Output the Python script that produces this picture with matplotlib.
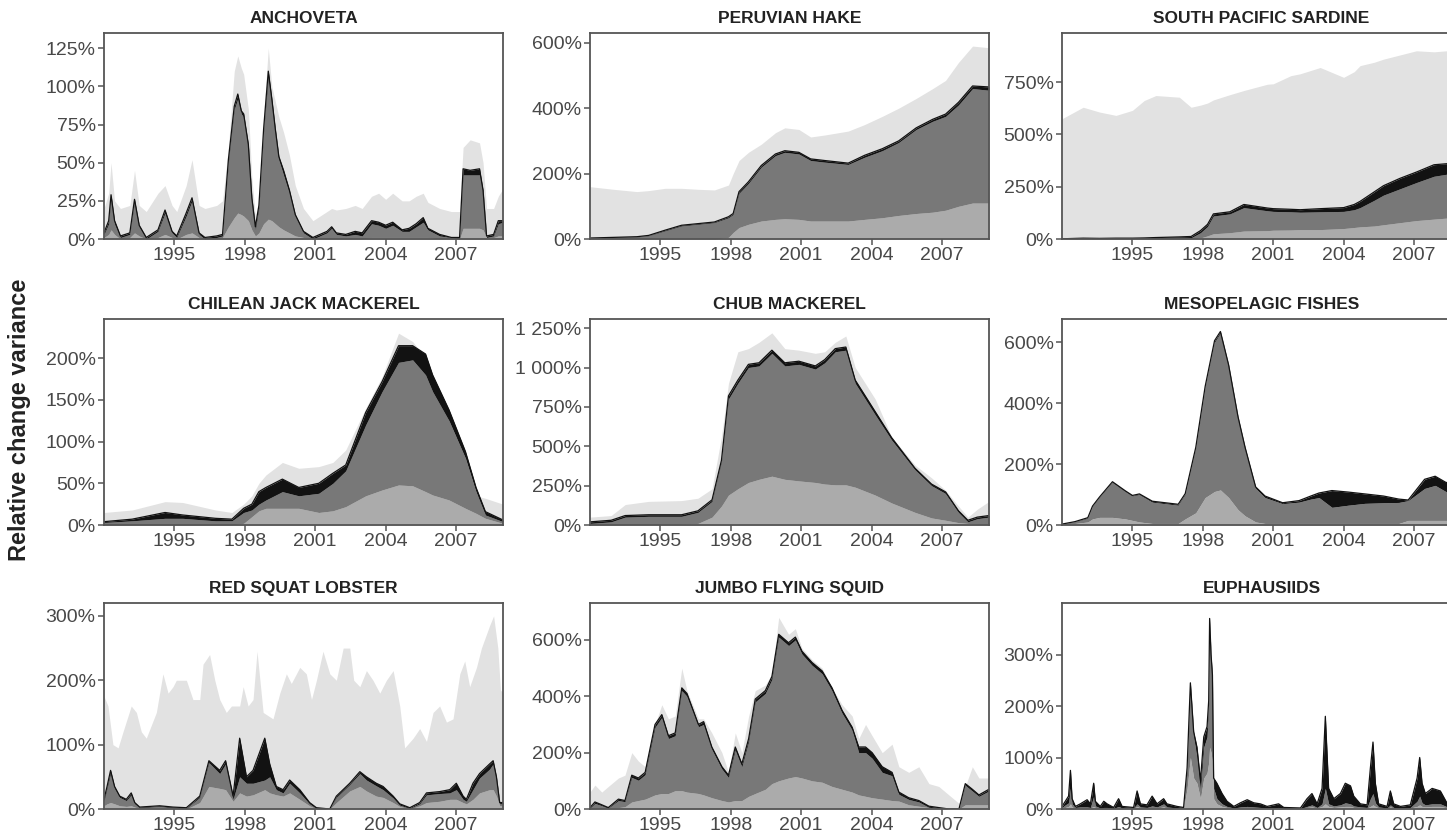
import numpy as np
from matplotlib import pyplot as plt

plt.rcParams['font.family'] = ['Liberation Sans', 'DejaVu Sans']

###################
# data (% values) #
###################
# each panel: years, lo (bottom grey), mid (dark grey top), top (black top), bg (light grey behind)

anch_years = [1992.0, 1992.2, 1992.3, 1992.45, 1992.7, 1993.1, 1993.3, 1993.5, 1993.8, 1994.3,
              1994.6, 1994.9, 1995.1, 1995.5, 1995.75, 1996.05, 1996.3, 1996.8, 1997.05, 1997.3,
              1997.55, 1997.7, 1997.85, 1997.95, 1998.15, 1998.3, 1998.45, 1998.6, 1998.8, 1999.0,
              1999.15, 1999.3, 1999.45, 1999.65, 1999.9, 2000.15, 2000.5, 2000.9, 2001.2, 2001.5,
              2001.7, 2001.9, 2002.3, 2002.7, 2003.0, 2003.4, 2003.7, 2004.0, 2004.3, 2004.7,
              2005.0, 2005.3, 2005.6, 2005.8, 2006.3, 2006.8, 2007.15, 2007.3, 2007.6, 2008.0,
              2008.15, 2008.3, 2008.6, 2008.8, 2009.0]
anch_bg = [20, 30, 50, 25, 20, 22, 45, 22, 18, 30, 35, 22, 18, 35, 52, 22, 20, 22, 25, 60,
           110, 120, 112, 108, 85, 40, 15, 25, 80, 125, 100, 90, 80, 70, 55, 35, 20, 12, 15, 18,
           20, 19, 20, 22, 20, 28, 30, 26, 30, 25, 25, 28, 30, 24, 20, 18, 18, 60, 65, 63,
           50, 20, 20, 28, 33]
anch_lo = [1, 3, 6, 3, 0, 1, 4, 2, 0, 1, 3, 1, 0, 3, 4, 1, 0, 0, 1, 8,
           14, 17, 16, 15, 12, 6, 2, 4, 10, 13, 12, 10, 8, 6, 4, 2, 1, 0, 0, 0,
           0, 0, 0, 0, 0, 1, 1, 1, 1, 1, 1, 1, 1, 1, 0, 0, 0, 7, 7, 7,
           6, 1, 1, 2, 2]
anch_mid = [3, 10, 27, 10, 1, 3, 24, 8, 0, 5, 17, 4, 1, 15, 25, 3, 0, 1, 2, 50,
            85, 92, 82, 80, 60, 25, 6, 20, 70, 106, 88, 70, 52, 42, 30, 15, 4, 0, 2, 4,
            7, 3, 2, 3, 2, 10, 9, 7, 9, 5, 5, 8, 11, 6, 2, 1, 0, 42, 42, 42,
            30, 1, 2, 10, 11]
anch_top = [4, 12, 29, 12, 2, 4, 26, 9, 1, 6, 19, 5, 2, 17, 27, 4, 1, 2, 3, 52,
            87, 95, 84, 82, 62, 27, 8, 22, 72, 110, 92, 72, 54, 45, 32, 16, 5, 1, 3, 5,
            8, 4, 3, 5, 4, 12, 11, 9, 11, 6, 7, 10, 14, 7, 3, 1, 1, 46, 45, 46,
            32, 2, 3, 12, 12]

hake_years = [1992.0, 1993.0, 1994.0, 1994.5, 1995.2, 1995.9, 1996.6, 1997.3, 1997.9, 1998.1,
              1998.35, 1998.75, 1999.3, 1999.9, 2000.3, 2000.9, 2001.4, 2002.0, 2003.0, 2003.7,
              2004.45, 2005.15, 2005.9, 2006.6, 2007.15, 2007.7, 2008.3, 2009.0]
hake_bg = [160, 152, 145, 148, 155, 155, 152, 150, 165, 200, 240, 265, 290, 325, 340,
           335, 312, 318, 330, 350, 375, 400, 430, 460, 485, 540, 590, 585]
hake_lo = [0, 0, 0, 0, 0, 0, 0, 0, 5, 20, 35, 45, 55, 60, 62,
           60, 55, 55, 55, 60, 65, 72, 78, 82, 88, 100, 110, 110]
hake_mid = [2, 4, 6, 10, 25, 40, 45, 50, 65, 75, 140, 170, 220, 255, 265,
            260, 240, 235, 228, 250, 270, 295, 335, 360, 375, 410, 460, 455]
hake_top = [3, 5, 7, 11, 27, 42, 47, 52, 68, 78, 145, 175, 225, 260, 270,
            265, 245, 240, 232, 256, 276, 300, 340, 366, 382, 418, 468, 465]

sard_years = [1992.0, 1992.9, 1993.6, 1994.3, 1995.0, 1995.5, 1996.0, 1997.0, 1997.5, 1997.9,
              1998.2, 1998.45, 1999.15, 1999.75, 2000.75, 2001.0, 2001.75, 2002.15, 2003.0, 2004.0,
              2004.45, 2004.7, 2005.3, 2005.7, 2006.4, 2007.1, 2007.85, 2008.4, 2009.0]
sard_bg = [575, 630, 607, 591, 615, 662, 686, 678, 630, 640, 650, 665, 690, 710, 740,
           742, 781, 790, 820, 773, 800, 829, 845, 860, 880, 900, 895, 900, 905]
sard_lo = [0, 0, 0, 0, 0, 0, 0, 0, 0, 5, 15, 25, 30, 38, 40,
           42, 43, 45, 45, 50, 55, 58, 62, 68, 78, 88, 95, 100, 100]
sard_mid = [0, 2, 1, 2, 2, 3, 4, 5, 6, 30, 60, 110, 120, 150, 135,
            132, 130, 128, 130, 132, 140, 150, 185, 210, 240, 270, 300, 310, 320]
sard_top = [1, 4, 3, 4, 4, 5, 7, 10, 12, 40, 70, 120, 130, 165, 148,
            145, 142, 140, 145, 150, 165, 180, 225, 255, 290, 320, 355, 360, 365]

jack_years = [1992.0, 1993.2, 1994.6, 1995.35, 1996.75, 1997.45, 1997.95, 1998.3, 1998.6, 1998.9,
              1999.6, 2000.3, 2001.15, 2001.75, 2002.3, 2003.15, 2003.85, 2004.55, 2005.15, 2005.7,
              2006.0, 2006.7, 2007.4, 2007.85, 2008.25, 2009.0]
jack_bg = [15, 18, 28, 27, 18, 15, 25, 35, 50, 60, 75, 68, 70, 75, 90,
           140, 178, 230, 220, 200, 175, 125, 65, 35, 32, 25]
jack_lo = [0, 0, 0, 0, 0, 0, 2, 10, 17, 20, 20, 20, 15, 17, 22,
           35, 42, 48, 47, 40, 36, 30, 20, 14, 8, 2]
jack_mid = [3, 5, 8, 8, 5, 5, 15, 18, 25, 30, 40, 35, 38, 50, 65,
            120, 160, 195, 198, 180, 160, 125, 80, 40, 12, 4]
jack_top = [4, 7, 15, 12, 8, 7, 20, 25, 40, 45, 55, 45, 50, 62, 72,
            135, 172, 215, 215, 205, 180, 138, 88, 45, 16, 6]

chub_years = [1992.0, 1992.9, 1993.5, 1994.5, 1995.9, 1996.6, 1997.2, 1997.6, 1997.9, 1998.3,
              1998.75, 1999.2, 1999.75, 2000.3, 2000.9, 2001.6, 2002.0, 2002.45, 2002.9, 2003.3,
              2004.15, 2004.85, 2005.85, 2006.55, 2007.15, 2007.7, 2008.1, 2008.5, 2009.0]
chub_bg = [50, 60, 130, 150, 155, 170, 230, 560, 900, 1100, 1120, 1160, 1220, 1120, 1110,
           1090, 1100, 1160, 1200, 1000, 800, 560, 380, 300, 220, 120, 50, 100, 150]
chub_lo = [0, 0, 2, 3, 5, 10, 50, 120, 190, 230, 270, 290, 310, 290, 280,
           270, 260, 255, 255, 240, 190, 140, 80, 45, 30, 15, 10, 5, 5]
chub_mid = [10, 20, 50, 55, 55, 80, 150, 400, 800, 900, 1000, 1010, 1090, 1010, 1020,
            990, 1030, 1100, 1110, 900, 700, 540, 350, 250, 200, 80, 20, 40, 50]
chub_top = [20, 30, 60, 65, 65, 90, 160, 410, 820, 920, 1020, 1030, 1110, 1030, 1040,
            1010, 1050, 1120, 1130, 920, 720, 555, 360, 260, 210, 90, 30, 50, 60]

meso_years = [1992.0, 1992.55, 1993.1, 1993.3, 1993.6, 1994.15, 1994.7, 1995.0, 1995.3, 1995.85,
              1996.95, 1997.25, 1997.7, 1998.1, 1998.5, 1998.75, 1999.1, 1999.5, 1999.8, 2000.25,
              2000.65, 2001.4, 2002.1, 2002.6, 2002.95, 2003.5, 2004.2, 2004.9, 2005.7, 2006.35,
              2006.75, 2007.45, 2007.9, 2008.35, 2009.0]
meso_lo = [1, 5, 10, 20, 25, 25, 20, 15, 10, 5, 5, 20, 40, 90, 110, 115, 90, 50,
           30, 10, 5, 5, 5, 5, 5, 5, 5, 5, 5, 5, 15, 15, 15, 15, 15]
meso_mid = [2, 10, 22, 60, 90, 140, 110, 95, 100, 75, 65, 100, 250, 450, 600, 630, 520, 350,
            250, 120, 90, 70, 75, 85, 90, 58, 65, 71, 73, 74, 80, 120, 130, 110, 100]
meso_top = [3, 11, 24, 62, 92, 142, 112, 97, 102, 78, 68, 103, 255, 455, 605, 635, 525, 355,
            255, 125, 95, 73, 80, 95, 105, 113, 108, 102, 95, 85, 82, 150, 160, 140, 130]

lob_years = [1992.0, 1992.13, 1992.28, 1992.45, 1992.67, 1992.95, 1993.16, 1993.31, 1993.52, 1994.37,
             1994.94, 1995.51, 1996.08, 1996.47, 1996.93, 1997.18, 1997.5, 1997.78, 1998.07, 1998.35,
             1998.85, 1999.06, 1999.34, 1999.63, 1999.91, 2000.34, 2000.76, 2001.05, 2001.62, 2001.9,
             2002.47, 2002.9, 2003.18, 2003.6, 2003.89, 2004.32, 2004.6, 2005.03, 2005.45, 2005.74,
             2006.3, 2006.73, 2007.01, 2007.3, 2007.44, 2007.72, 2008.0, 2008.43, 2008.58, 2008.72,
             2008.86, 2009.0]
lob_lo = [5, 8, 10, 8, 5, 4, 5, 3, 1, 2, 1, 0, 10, 35, 32, 30, 12, 25, 20, 22,
          30, 25, 22, 20, 25, 15, 5, 0, 0, 10, 28, 35, 28, 20, 18, 10, 4, 0, 5, 10,
          12, 15, 15, 10, 8, 15, 25, 30, 30, 20, 5, 5]
lob_mid = [12, 32, 55, 32, 18, 13, 22, 8, 2, 4, 2, 1, 18, 72, 55, 70, 15, 50, 40, 40,
           45, 50, 30, 25, 40, 25, 8, 1, 0, 18, 38, 55, 45, 36, 30, 17, 6, 1, 8, 22,
           24, 25, 30, 15, 12, 30, 48, 62, 70, 45, 8, 8]
lob_top = [15, 35, 60, 35, 20, 15, 25, 10, 3, 5, 3, 2, 20, 75, 60, 75, 20, 110, 50, 60,
           110, 70, 35, 30, 45, 30, 10, 2, 0, 20, 40, 58, 50, 40, 35, 20, 8, 2, 10, 25,
           27, 30, 40, 20, 15, 40, 55, 70, 75, 50, 10, 10]
lob_bg_years = [1992.0, 1992.17, 1992.38, 1992.6, 1992.81, 1993.16, 1993.38, 1993.59, 1993.8, 1994.23,
                1994.51, 1994.73, 1994.94, 1995.08, 1995.51, 1995.79, 1996.08, 1996.22, 1996.5, 1996.72,
                1996.93, 1997.21, 1997.43, 1997.78, 1997.93, 1998.14, 1998.35, 1998.52, 1998.78, 1999.2,
                1999.49, 1999.77, 1999.98, 2000.34, 2000.62, 2000.84, 2001.05, 2001.33, 2001.62, 2001.9,
                2002.19, 2002.47, 2002.64, 2002.9, 2003.18, 2003.46, 2003.75, 2004.03, 2004.32, 2004.6,
                2004.81, 2005.17, 2005.45, 2005.74, 2006.02, 2006.3, 2006.59, 2006.87, 2007.16, 2007.37,
                2007.58, 2007.87, 2008.08, 2008.43, 2008.6, 2008.78, 2008.89, 2009.0]
lob_bg = [175, 160, 100, 95, 120, 160, 150, 120, 110, 150, 210, 180, 190, 200, 200, 170, 170, 225, 240, 200,
          170, 150, 160, 160, 190, 160, 170, 245, 150, 140, 180, 210, 195, 220, 210, 170, 200, 245, 210, 200,
          250, 250, 200, 190, 215, 200, 180, 200, 215, 160, 95, 110, 125, 105, 150, 160, 135, 140, 210, 230,
          190, 220, 250, 285, 300, 250, 185, 180]

squid_years = [1992.0, 1992.21, 1992.5, 1992.78, 1993.21, 1993.49, 1993.78, 1994.06, 1994.35, 1994.77,
               1995.06, 1995.34, 1995.63, 1995.91, 1996.13, 1996.62, 1996.84, 1997.19, 1997.62, 1997.9,
               1998.19, 1998.47, 1998.76, 1999.04, 1999.47, 1999.75, 2000.04, 2000.46, 2000.75, 2001.03,
               2001.46, 2001.89, 2002.31, 2002.74, 2003.17, 2003.45, 2003.74, 2004.02, 2004.45, 2004.87,
               2005.16, 2005.58, 2006.01, 2006.44, 2006.86, 2007.29, 2007.72, 2007.99, 2008.29, 2008.57,
               2009.0]
squid_bg = [60, 85, 60, 80, 110, 120, 200, 170, 150, 300, 370, 320, 330, 500, 420, 320, 320, 270, 200, 130,
            270, 200, 330, 420, 440, 480, 680, 620, 640, 570, 530, 500, 430, 370, 330, 250, 300, 260, 200, 230,
            150, 130, 150, 90, 80, 50, 20, 80, 150, 110, 110]
squid_lo = [0, 0, 2, 3, 5, 8, 25, 30, 35, 50, 55, 55, 65, 65, 60, 55, 50, 40, 30, 25,
            30, 30, 45, 55, 70, 90, 100, 110, 115, 110, 100, 95, 80, 70, 60, 50, 45, 40, 35, 30,
            28, 15, 10, 5, 2, 0, 0, 15, 15, 15, 15]
squid_mid = [3, 20, 12, 3, 30, 26, 112, 102, 122, 290, 325, 250, 260, 420, 400, 292, 300, 212, 142, 112,
             210, 150, 240, 380, 410, 460, 610, 580, 600, 550, 510, 480, 420, 340, 280, 200, 200, 180, 130, 118,
             52, 34, 25, 6, 3, 0, 0, 84, 64, 45, 64]
squid_top = [5, 25, 15, 5, 35, 30, 120, 110, 130, 300, 335, 260, 270, 430, 410, 300, 310, 220, 150, 120,
             220, 160, 250, 390, 420, 470, 620, 590, 610, 560, 520, 490, 430, 350, 290, 220, 220, 200, 150, 130,
             60, 40, 30, 10, 5, 0, 0, 90, 70, 50, 70]

euph_years = [1992.0, 1992.14, 1992.28, 1992.36, 1992.43, 1992.57, 1992.78, 1993.07, 1993.21, 1993.35,
              1993.42, 1993.63, 1993.78, 1993.92, 1994.2, 1994.41, 1994.56, 1995.05, 1995.2, 1995.34,
              1995.62, 1995.84, 1996.05, 1996.33, 1996.47, 1996.9, 1997.18, 1997.33, 1997.47, 1997.61,
              1997.75, 1997.9, 1998.04, 1998.18, 1998.25, 1998.29, 1998.35, 1998.41, 1998.46, 1998.6,
              1998.82, 1999.03, 1999.32, 1999.6, 1999.89, 2000.17, 2000.45, 2000.74, 2001.23, 2001.45,
              2002.16, 2002.44, 2002.65, 2002.87, 2003.08, 2003.22, 2003.36, 2003.58, 2003.86, 2004.07,
              2004.29, 2004.43, 2004.71, 2005.0, 2005.14, 2005.25, 2005.35, 2005.49, 2005.85, 2005.99,
              2006.13, 2006.42, 2006.84, 2007.13, 2007.24, 2007.34, 2007.48, 2007.77, 2008.12, 2008.42,
              2009.0]
euph_lo = [1, 3, 5, 10, 4, 1, 2, 2, 2, 5, 3, 1, 2, 2, 1, 3, 1, 1, 5, 2,
           2, 3, 2, 4, 2, 1, 1, 40, 100, 60, 50, 20, 60, 70, 90, 120, 110, 90, 20, 10,
           5, 3, 1, 2, 3, 2, 2, 1, 2, 1, 0, 3, 4, 2, 5, 10, 5, 3, 4, 5,
           5, 3, 2, 2, 5, 8, 5, 2, 1, 4, 2, 1, 2, 5, 8, 5, 4, 5, 5, 2, 3]
euph_mid = [3, 8, 12, 40, 10, 3, 4, 4, 3, 25, 6, 2, 3, 3, 1, 5, 2, 2, 10, 4,
            3, 6, 4, 10, 4, 2, 2, 70, 235, 140, 100, 35, 120, 140, 200, 360, 290, 240, 40, 20,
            10, 5, 2, 4, 5, 4, 3, 2, 3, 1, 1, 5, 8, 3, 10, 40, 10, 6, 8, 12,
            10, 6, 4, 3, 20, 30, 12, 4, 2, 8, 3, 2, 3, 15, 25, 12, 8, 10, 10, 4, 5]
euph_top = [5, 15, 25, 75, 20, 5, 10, 18, 10, 50, 15, 5, 15, 10, 3, 20, 5, 3, 35, 10,
            8, 25, 10, 20, 10, 5, 3, 80, 245, 150, 120, 55, 140, 160, 210, 370, 300, 260, 60, 50,
            30, 15, 5, 12, 18, 12, 10, 5, 10, 3, 2, 20, 30, 10, 40, 180, 40, 20, 30, 50,
            45, 25, 10, 8, 80, 130, 50, 10, 5, 35, 10, 5, 8, 60, 100, 50, 30, 40, 35, 10, 15]

titles = ["ANCHOVETA", "PERUVIAN HAKE", "SOUTH PACIFIC SARDINE",
          "CHILEAN JACK MACKEREL", "CHUB MACKEREL", "MESOPELAGIC FISHES",
          "RED SQUAT LOBSTER", "JUMBO FLYING SQUID", "EUPHAUSIIDS"]
yticks = [[0, 25, 50, 75, 100, 125], [0, 200, 400, 600], [0, 250, 500, 750],
          [0, 50, 100, 150, 200], [0, 250, 500, 750, 1000, 1250], [0, 200, 400, 600],
          [0, 100, 200, 300], [0, 200, 400, 600], [0, 100, 200, 300]]
ymax = [135, 630, 985, 247, 1308, 676, 320, 731, 400]
xticks = [1995, 1998, 2001, 2004, 2007]

panels = [
    (anch_years, anch_lo, anch_mid, anch_top, anch_years, anch_bg),
    (hake_years, hake_lo, hake_mid, hake_top, hake_years, hake_bg),
    (sard_years, sard_lo, sard_mid, sard_top, sard_years, sard_bg),
    (jack_years, jack_lo, jack_mid, jack_top, jack_years, jack_bg),
    (chub_years, chub_lo, chub_mid, chub_top, chub_years, chub_bg),
    (meso_years, meso_lo, meso_mid, meso_top, None, None),
    (lob_years, lob_lo, lob_mid, lob_top, lob_bg_years, lob_bg),
    (squid_years, squid_lo, squid_mid, squid_top, squid_years, squid_bg),
    (euph_years, euph_lo, euph_mid, euph_top, None, None),
]

c_bg, c_lo, c_mid, c_top = '#e2e2e2', '#ababab', '#787878', '#121212'

###########
# drawing #
###########
W, H = 1447, 838
fig = plt.figure(figsize=(W / 100, H / 100), dpi=100)
col_left = [104, 590, 1062]
row_top = [33, 319, 603]
ax_w, ax_h = 399, 206


def pct(v):
    return "{:,}%".format(v).replace(",", " ")


for i, (yrs, lo, mid, top, bg_yrs, bg) in enumerate(panels):
    r, c = divmod(i, 3)
    ax = fig.add_axes([col_left[c] / W, 1 - (row_top[r] + ax_h) / H, ax_w / W, ax_h / H])
    if bg is not None:
        ax.fill_between(bg_yrs, 0, bg, color=c_bg, lw=0)
    ax.fill_between(yrs, 0, lo, color=c_lo, lw=0)
    ax.fill_between(yrs, lo, mid, color=c_mid, lw=0)
    ax.fill_between(yrs, mid, top, color=c_top, lw=0)
    ax.plot(yrs, top, color=c_top, lw=0.9)

    ax.set_xlim(1992, 2009)
    ax.set_ylim(0, ymax[i])
    ax.set_xticks(xticks)
    ax.set_xticklabels([str(x) for x in xticks])
    ax.set_yticks(yticks[i])
    ax.set_yticklabels([pct(v) for v in yticks[i]])
    ax.tick_params(direction='out', length=4, width=1.1, color='#555555',
                   labelsize=14, labelcolor='#484848', pad=2)
    for s in ax.spines.values():
        s.set_color('#555555')
        s.set_linewidth(1.3)
    ax.set_title(titles[i], fontsize=12.5, fontweight='bold', color='#222222', pad=7)

fig.text(20 / W, 1 - 420 / H, "Relative change variance", rotation=90,
         fontsize=17, fontweight='bold', ha='center', va='center', color='#222222')

fig.savefig("out.png", dpi=100)
